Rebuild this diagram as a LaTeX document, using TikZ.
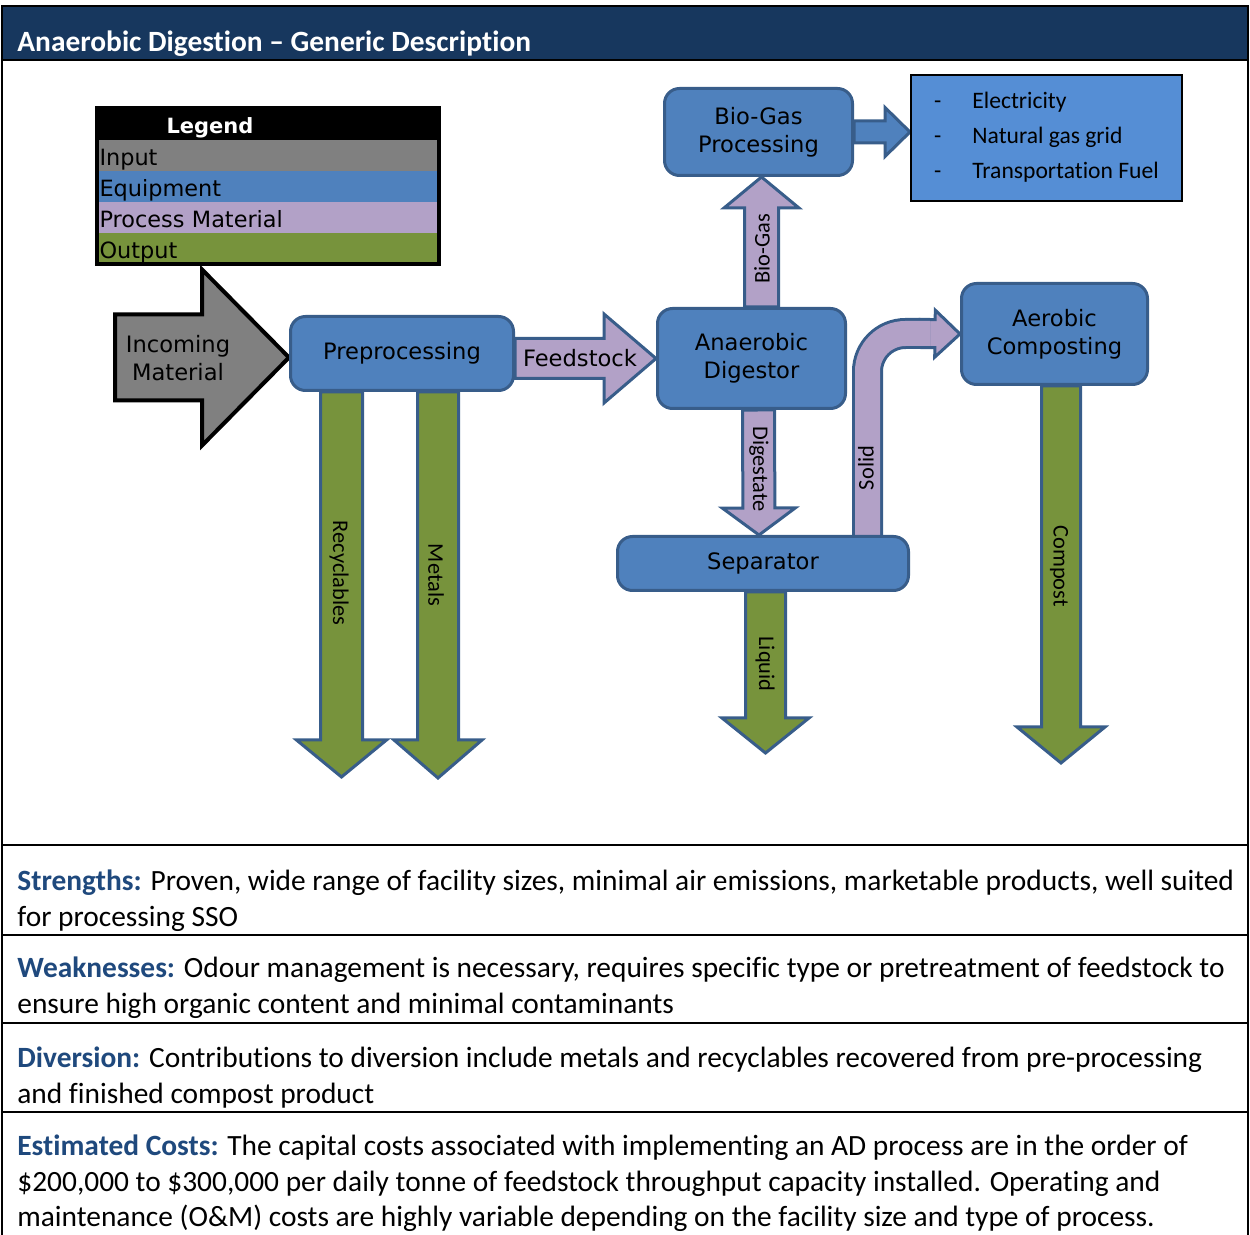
\documentclass[tikz,border=0pt]{standalone}
\usepackage{fontspec}
\setmainfont{Carlito}[Ligatures={TeX,NoCommon}]
\newfontfamily\verdana{DejaVu Sans}
\usetikzlibrary{calc,positioning}
\pgfdeclarelayer{background}
\pgfsetlayers{background,main}
\definecolor{headblue}{HTML}{17375E}
\definecolor{boxblue}{HTML}{4F81BD}
\definecolor{edgeblue}{HTML}{385D8A}
\definecolor{lavender}{HTML}{B2A1C7}
\definecolor{outgreen}{HTML}{77933C}
\definecolor{inputgray}{HTML}{808080}
\definecolor{listblue}{HTML}{558ED5}
\definecolor{labelblue}{HTML}{1F497D}
\begin{document}
\begin{tikzpicture}[x=0.5pt,y=-0.5pt,
  equip/.style={draw=edgeblue, fill=boxblue, line width=1.5pt, rounded corners=7.5pt, align=center, inner sep=2pt, font=\verdana\fontsize{11.3}{14}\selectfont},
  legrow/.style={text width=168pt, inner xsep=1.5pt, inner ysep=0pt, outer sep=0pt, minimum height=15.5pt, text height=10.5pt, text depth=1pt, align=left, font=\verdana\fontsize{11.2}{13}\selectfont},
  block/.style n args={3}{to path={($(\tikztostart)!#1!90:(\tikztotarget)$) -- ($(\tikztotarget)!#3!(\tikztostart)!#1!-90:(\tikztostart)$) -- ($(\tikztotarget)!#3!(\tikztostart)!#2!-90:(\tikztostart)$) -- (\tikztotarget) -- ($(\tikztotarget)!#3!(\tikztostart)!#2!90:(\tikztostart)$) -- ($(\tikztotarget)!#3!(\tikztostart)!#1!90:(\tikztostart)$) -- ($(\tikztostart)!#1!-90:(\tikztotarget)$) -- cycle}},
  matarrow/.style n args={3}{block={#1}{#2}{#3}, draw=edgeblue, fill=lavender, line width=1.5pt},
  outarrow/.style n args={3}{block={#1}{#2}{#3}, draw=edgeblue, fill=outgreen, line width=1.5pt},
  flowlabel/.style={inner sep=0pt, font=\fontsize{11.2}{13}\selectfont},
  para/.style={anchor=north west, inner sep=0pt, align=left, font=\fontsize{14.7}{17.75}\selectfont}]
\useasboundingbox (0,0) rectangle (1250,1235);
\fill[headblue] (3,6) rectangle (1248,60);
\draw[line width=1pt] (2,1240) -- (2,6) -- (1248,6) -- (1248,1240);
\foreach \y in {60,845,935,1023,1112}
  { \draw[line width=1pt] (2,\y) -- (1248,\y); }
\node[anchor=base west, inner sep=0pt, text=white, font=\bfseries\fontsize{14.7}{17}\selectfont] (title) at (17,52) {Anaerobic Digestion – Generic Description};
\node[legrow, fill=black, text=white, minimum height=16pt, text height=10pt, font=\verdana\bfseries\fontsize{10.5}{13}\selectfont] (legend) at (267.5,124.5) {\hspace*{33.5pt}Legend};
\node[legrow, fill=inputgray, below=0pt of legend] (leginput) {Input};
\node[legrow, fill=boxblue, below=0pt of leginput] (legequip) {Equipment};
\node[legrow, fill=lavender, below=0pt of legequip] (legmat) {Process Material};
\node[legrow, fill=outgreen, below=0pt of legmat] (legout) {Output};
\draw[line width=2pt] (legend.north west) rectangle (legout.south east);
\node[equip, minimum width=111.5pt, minimum height=37pt] (prep) at (402,353.5) {Preprocessing};
\node[equip, minimum width=94pt, minimum height=50pt] (dig) at (751.5,358.5) {Anaerobic\\Digestor};
\node[equip, minimum width=94pt, minimum height=43.5pt] (bgp) at (758.5,132) {Bio-Gas\\Processing};
\node[equip, minimum width=145.5pt, minimum height=27pt] (sep) at (763,563.5) {Separator};
\node[equip, minimum width=93pt, minimum height=50.5pt] (aer) at (1054.5,334) {Aerobic\\Composting};
\node[draw=black, line width=1pt, fill=listblue, minimum width=135.5pt, minimum height=63pt, font=\fontsize{11.8}{14}\selectfont] (uses) at (1046.5,138)
  {\begin{tabular}{@{}l@{\hspace{15.5pt}}l@{}}-&Electricity\\[3.5pt]-&Natural gas grid\\[3.5pt]-&Transportation Fuel\end{tabular}};
\coordinate (inStart) at (115,357.5);
\coordinate (recEnd) at (341.5,777);
\coordinate (metEnd) at (438,778);
\coordinate (liqEnd) at (765.5,753);
\coordinate (compEnd) at (1061,763);
\coordinate (solidTurn) at (920,333.5);
\begin{pgfonlayer}{background}
\draw[block={21.5pt}{44pt}{43.5pt}, draw=black, fill=inputgray, line width=2pt] (inStart) to ($(prep.west)+(0,4)$);
\draw[matarrow={10pt}{22.25pt}{26pt}] ($(prep.east)+(0,5)$) to (dig.west);
\draw[matarrow={8.5pt}{18.75pt}{15.5pt}] ($(dig.north)+(10,0)$) to ($(bgp.south)+(3,0)$);
\draw[matarrow={5.5pt}{12.25pt}{12.5pt}, fill=boxblue] (bgp.east) to (bgp.east -| uses.west);
\draw[matarrow={8pt}{18.25pt}{13.5pt}] ($(dig.south)+(7,0)$) to ($(sep.north)+(-4,0)$);
\draw[matarrow={7pt}{11.75pt}{12.5pt}] (solidTurn) to (aer.west);
\draw[edgeblue, line width=1.5pt, double=lavender, double distance=12.5pt, rounded corners=19pt] ($(sep.north)+(104.5,0)$) |- ($(solidTurn)+(10,0)$);
\draw[outarrow={10.5pt}{22.5pt}{18.5pt}] ($(prep.south)+(-60.5,0)$) to (recEnd);
\draw[outarrow={10.25pt}{22pt}{19pt}] ($(prep.south)+(36,0)$) to (metEnd);
\draw[outarrow={10pt}{21.75pt}{17.5pt}] ($(sep.south)+(2.5,0)$) to (liqEnd);
\draw[outarrow={9.75pt}{22pt}{18pt}] ($(aer.south)+(6.5,0)$) to (compEnd);
\end{pgfonlayer}
\node[align=center, inner sep=0pt, font=\verdana\fontsize{11.3}{14}\selectfont] (incoming) at (178,358) {Incoming\\Material};
\node[inner sep=0pt, font=\verdana\fontsize{11.3}{14}\selectfont] (feedlbl) at (580,358) {Feedstock};
\node[flowlabel, rotate=90] (gaslbl) at (762,249) {Bio-Gas};
\node[flowlabel, rotate=-90] (digestlbl) at (759,469) {Digestate};
\node[flowlabel, rotate=90] (solidlbl) at (866,468) {Solid};
\node[flowlabel, rotate=-90] (liqlbl) at (765,664) {Liquid};
\node[flowlabel, rotate=-90] (complbl) at (1059,566) {Compost};
\node[flowlabel, rotate=-90] (reclbl) at (339,573) {Recyclables};
\node[flowlabel, rotate=-90] (metlbl) at (436,575) {Metals};
\node[para] (strengths) at (17,869.5) {\textcolor{labelblue}{\textbf{Strengths:}} Proven, wide range of facility sizes, minimal air emissions, marketable products, well suited\\for processing SSO};
\node[para] (weak) at (17,956.5) {\textcolor{labelblue}{\textbf{Weaknesses:}} Odour management is necessary, requires specific type or pretreatment of feedstock to\\ensure high organic content and minimal contaminants};
\node[para] (divers) at (17,1046.5) {\textcolor{labelblue}{\textbf{Diversion:}} Contributions to diversion include metals and recyclables recovered from pre-processing\\and finished compost product};
\node[para] (costs) at (17,1134.5) {\textcolor{labelblue}{\textbf{Estimated Costs:}} The capital costs associated with implementing an AD process are in the order of\\\$200,000 to \$300,000 per daily tonne of feedstock throughput capacity installed. Operating and\\maintenance (O\&M) costs are highly variable depending on the facility size and type of process.};
\end{tikzpicture}
\end{document}
